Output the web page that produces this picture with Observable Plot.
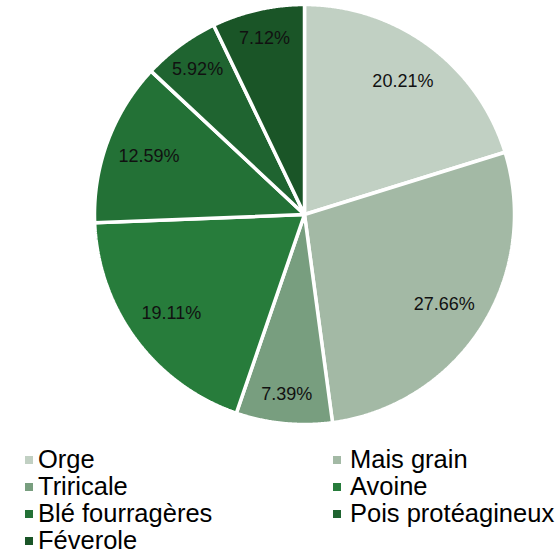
<!DOCTYPE html>
<html>
<head>
<meta charset="utf-8">
<script src="https://cdn.jsdelivr.net/npm/d3@7"></script>
<script src="https://cdn.jsdelivr.net/npm/@observablehq/plot@0.6"></script>
<style>
  html, body { margin: 0; padding: 0; background: #fff; }
  body { width: 556px; height: 553px; overflow: hidden; font-family: "Liberation Sans", Arial, sans-serif; }
  #legend { display: grid; grid-template-columns: 308px 223px; padding-left: 25px; padding-top: 6px; }
  .item { display: flex; align-items: center; height: 27px; font-size: 25.5px; color: #000; white-space: nowrap; }
  .sw { width: 8px; height: 8px; margin-right: 5px; flex: none; }
  .item.c2 .sw { margin-right: 9px; }
</style>
</head>
<body>
<div id="chart"></div>
<div id="legend"></div>
<script>
const categories = ["Orge", "Mais grain", "Triricale", "Avoine", "Blé fourragères", "Pois protéagineux", "Féverole"];
const shares = [20.21, 27.66, 7.39, 19.11, 12.59, 5.92, 7.12];
const colors = ["#c1d0c3", "#a3b9a5", "#789e7f", "#277c3b", "#237136", "#1f6430", "#1a5527"];

const data = categories.map((name, i) => ({name, value: shares[i]}));
const arcs = d3.pie().sort(null).value(d => d.value)(data);

// Polygon outline of each slice (unit circle, angle measured clockwise from top)
const outline = [];
for (const a of arcs) {
  outline.push({name: a.data.name, x: 0, y: 0});
  const n = Math.max(2, Math.ceil((a.endAngle - a.startAngle) / 0.005));
  for (let k = 0; k <= n; k++) {
    const t = a.startAngle + (a.endAngle - a.startAngle) * k / n;
    outline.push({name: a.data.name, x: Math.sin(t), y: Math.cos(t)});
  }
  outline.push({name: a.data.name, x: 0, y: 0});
}
// labels: small slices pushed further out, like the spreadsheet's best-fit placement
const labels = arcs.map(a => {
  const m = (a.startAngle + a.endAngle) / 2;
  const f = a.data.value < 10 ? 0.86 : 0.79;
  return {name: a.data.name, x: f * Math.sin(m), y: f * Math.cos(m), text: a.data.value.toFixed(2) + "%"};
});

const cx = 304, cy = 214, r = 210;
const chart = Plot.plot({
  width: 556,
  height: 440,
  margin: 0,
  x: {domain: [-1, 1], range: [cx - r, cx + r], axis: null},
  y: {domain: [-1, 1], range: [cy + r, cy - r], axis: null},
  color: {domain: categories, range: colors},
  style: {fontFamily: "Liberation Sans, Arial, sans-serif", background: "#fff"},
  marks: [
    Plot.line(outline, {x: "x", y: "y", z: "name", fill: "name", stroke: "#fff", strokeWidth: 3.5, strokeLinejoin: "miter", curve: "linear"}),
    Plot.text(labels, {x: "x", y: "y", text: "text", fontSize: 18, fill: "#111"})
  ]
});
document.getElementById("chart").appendChild(chart);

const legend = document.getElementById("legend");
categories.forEach((c, i) => {
  const it = document.createElement("div");
  it.className = "item" + (i % 2 ? " c2" : "");
  const sw = document.createElement("span");
  sw.className = "sw";
  sw.style.background = colors[i];
  it.appendChild(sw);
  it.appendChild(document.createTextNode(c));
  legend.appendChild(it);
});
</script>
</body>
</html>
